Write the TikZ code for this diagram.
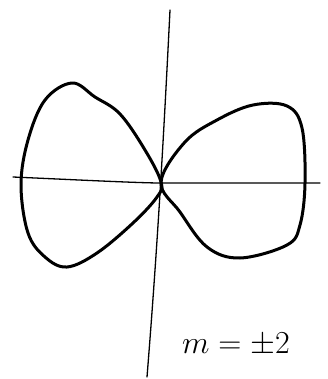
\documentclass[tikz,border=0pt]{standalone}
\usepackage{fix-cm}
\begin{document}
\begin{tikzpicture}[x=1pt,y=-1pt,
  axis/.style={line width=1.3pt,line cap=round},
  lobe/.style={line width=3pt,line join=round}]
\useasboundingbox (0,0) rectangle (328,379);
\coordinate (vt) at (170,10);
\coordinate (vb) at (147,377);
\coordinate (hl) at (13,177);
\coordinate (hr) at (320,183);
\draw[axis] (vt) .. controls (164,130) and (158,240) .. (vb);
\draw[axis] (hl) .. controls (80,180) and (140,183) .. (161,183) -- (hr);
\draw[lobe] plot[smooth cycle,tension=0.6] coordinates {(161,182) (145,150) (120,114) (95,97) (72,83) (45,100) (28,140) (21,185) (28,233) (45,257) (67,267) (97,253) (133,223) (157,197)};
\draw[lobe] plot[smooth cycle,tension=0.6] coordinates {(161,182) (185,142) (217,120) (253,105) (287,106) (302,128) (305,183) (300,225) (287,245) (240,258) (207,247) (180,212)};
\node (lbl) at (236,345) {\fontsize{32}{36}\selectfont $m=\pm2$};
\end{tikzpicture}
\end{document}
